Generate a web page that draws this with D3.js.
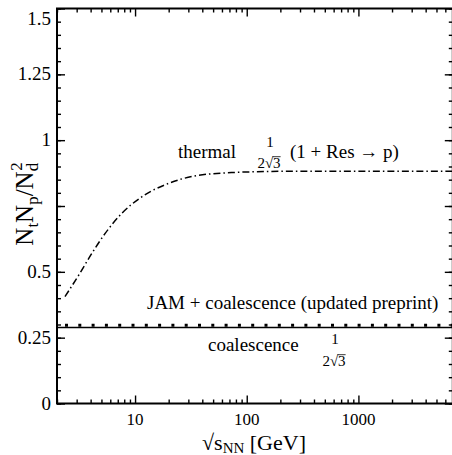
<!DOCTYPE html>
<html>
<head>
<meta charset="utf-8">
<script src="https://cdn.jsdelivr.net/npm/d3@7"></script>
</head>
<body style="margin:0">
<svg id="chart" width="452" height="455" style="display:block"></svg>
<script>
// ---- data
const xDomain = [2, 7000];
const yDomain = [0, 1.5];

const xMajor = [10, 100, 1000];
const xMinor = [2, 3, 4, 5, 6, 7, 8, 9, 20, 30, 40, 50, 60, 70, 80, 90,
                200, 300, 400, 500, 600, 700, 800, 900, 2000, 3000, 4000, 5000, 6000];
const yMajor = [0, 0.25, 0.5, 0.75, 1, 1.25, 1.5];
const yLabels = [0, 0.25, 0.5, 1, 1.25, 1.5];
const yMinor = d3.range(0, 31).map(i => +(i * 0.05).toFixed(2));

// thermal (1 + Res -> p)/(2 sqrt3), dash-dot
const sqrtS = [2.36, 3.2, 4.1, 5.4, 7.6, 11.5, 20, 34, 73, 120, 300, 1000, 3000, 7000];
const thermalRatio = [0.406, 0.494, 0.570, 0.646, 0.722, 0.785, 0.836, 0.864, 0.877, 0.880, 0.882, 0.882, 0.882, 0.882];

// flat lines
const coalRatio = 0.2887;   // 1/(2 sqrt3)
const jamRatio = 0.297;     // JAM + coalescence

const FONT = '"Liberation Serif", "Times New Roman", Times, serif';
const svg = d3.select('#chart');

const x = d3.scaleLog().domain(xDomain).range([57, 452.8]);
const y = d3.scaleLinear().domain(yDomain).range([403.5, 8.5]);

const line = d3.line()
  .x(d => x(d[0])).y(d => y(d[1]))
  .curve(d3.curveMonotoneX);

// ---- curves
const plot = svg.append('g');

plot.append('path')
  .datum(sqrtS.map((s, i) => [s, thermalRatio[i]]))
  .attr('d', line)
  .attr('fill', 'none').attr('stroke', '#000')
  .attr('stroke-width', 1.5)
  .attr('stroke-dasharray', '7,3,1.5,3');

plot.append('path')
  .datum(xDomain.map(s => [s, coalRatio]))
  .attr('d', line)
  .attr('fill', 'none').attr('stroke', '#000')
  .attr('stroke-width', 1.6);

plot.append('path')
  .datum(xDomain.map(s => [s, jamRatio]))
  .attr('d', line)
  .attr('fill', 'none').attr('stroke', '#000')
  .attr('stroke-width', 3)
  .attr('stroke-dasharray', '3,10.3')
  .attr('stroke-dashoffset', -8);

// ---- axes / ticks (all inward)
function ticks(axis, vals, size, tx, ty) {
  const g = svg.append('g').attr('transform', `translate(${tx},${ty})`)
    .call(axis.tickValues(vals).tickSize(size).tickFormat(''));
  g.select('.domain').remove();
  g.selectAll('.tick line').attr('stroke-width', 1.4);
  g.selectAll('.tick text').remove();
  return g;
}
const x0 = x.range()[0], x1 = x.range()[1];
const y0 = y.range()[0], y1 = y.range()[1];

ticks(d3.axisBottom(x), xMinor, -4, 0, y0);
ticks(d3.axisBottom(x), xMajor, -8, 0, y0);
ticks(d3.axisTop(x), xMinor, -4, 0, y1);
ticks(d3.axisTop(x), xMajor, -8, 0, y1);
ticks(d3.axisLeft(y), yMinor, -4, x0, 0);
ticks(d3.axisLeft(y), yMajor, -8, x0, 0);
ticks(d3.axisRight(y), yMinor, -4, x1, 0);
ticks(d3.axisRight(y), yMajor, -8, x1, 0);

// frame
svg.append('rect')
  .attr('x', x0).attr('y', y1)
  .attr('width', x1 - x0).attr('height', y0 - y1)
  .attr('fill', 'none').attr('stroke', '#000').attr('stroke-width', 2);

// tick labels
svg.append('g').selectAll('text').data(xMajor).join('text')
  .attr('x', d => x(d)).attr('y', 425)
  .attr('text-anchor', 'middle').attr('font-size', 17)
  .text(d => d);

svg.append('g').selectAll('text').data(yLabels).join('text')
  .attr('x', 51)
  .attr('y', d => d === 1.5 ? 25 : y(d) + 6)
  .attr('text-anchor', 'end').attr('font-size', 19)
  .text(d => String(d));

// axis titles
const xt = svg.append('text')
  .attr('x', 254).attr('y', 450)
  .attr('text-anchor', 'middle').attr('font-size', 22);
xt.append('tspan').text('√s');
xt.append('tspan').attr('font-size', 15).attr('dy', 3).text('NN');
xt.append('tspan').attr('dy', -3).text(' [GeV]');

const yt = svg.append('text')
  .attr('transform', 'translate(33,204) rotate(-90)')
  .attr('text-anchor', 'middle').attr('font-size', 25);
yt.append('tspan').text('N');
yt.append('tspan').attr('font-size', 17).attr('dy', 5).text('t');
yt.append('tspan').attr('dy', -5).text('N');
yt.append('tspan').attr('font-size', 17).attr('dy', 5).text('p');
yt.append('tspan').attr('dy', -5).text('/N');
yt.append('tspan').attr('font-size', 17).attr('dy', 5).text('d');
yt.append('tspan').attr('font-size', 17).attr('dx', -8).attr('dy', -16).text('2');

// ---- annotations
function frac(cx, yNum, yDen) {
  svg.append('text').attr('x', cx).attr('y', yNum)
    .attr('text-anchor', 'middle').attr('font-size', 15).text('1');
  const den = svg.append('text').attr('x', cx - 1).attr('y', yDen)
    .attr('text-anchor', 'middle').attr('font-size', 15)
    .style('font-family', FONT).text('2√3');
  const node = den.node();
  const s = node.getStartPositionOfChar(2).x;
  const w = node.getSubStringLength(2, 1);
  svg.append('line')
    .attr('x1', s - 0.5).attr('x2', s + w)
    .attr('y1', yDen - 11.3).attr('y2', yDen - 11.3)
    .attr('stroke', '#000').attr('stroke-width', 0.8);
}

svg.append('text').attr('x', 178).attr('y', 158)
  .attr('font-size', 19).text('thermal');
frac(270, 147, 168);
svg.append('text').attr('x', 290).attr('y', 158)
  .attr('font-size', 19).text('(1 + Res → p)');

svg.append('text').attr('x', 147).attr('y', 309)
  .attr('font-size', 19).text('JAM + coalescence (updated preprint)');

svg.append('text').attr('x', 208).attr('y', 351)
  .attr('font-size', 19).text('coalescence');
frac(335, 344, 366);

svg.selectAll('text, tspan').style('font-family', FONT);
</script>
</body>
</html>
